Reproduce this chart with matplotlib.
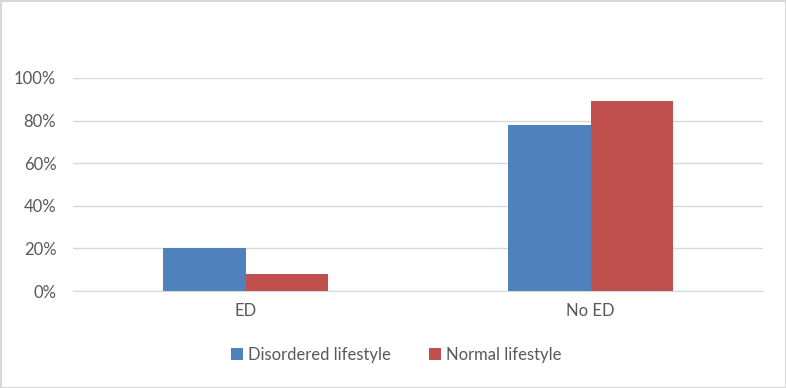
import matplotlib
matplotlib.use("Agg")
import matplotlib.pyplot as plt
import numpy as np
from matplotlib.ticker import PercentFormatter
from matplotlib.patches import Rectangle

categories = ["ED", "No ED"]
series_names = ["Disordered lifestyle", "Normal lifestyle"]
disordered = [0.20, 0.78]
normal = [0.08, 0.89]
yticks = [0, 0.2, 0.4, 0.6, 0.8, 1.0]
colors = ["#4F81BD", "#C0504D"]

plt.rcParams['font.family'] = ['Lato', 'DejaVu Sans']
fig = plt.figure(figsize=(7.86, 3.88), dpi=100)
left, right = 73, 763
ax = fig.add_axes([left/786, 1-291/388, (right-left)/786, (291-78)/388])

x = np.arange(len(categories))
w = 0.238
ax.bar(x - w/2, disordered, w, color=colors[0], label=series_names[0], zorder=3)
ax.bar(x + w/2, normal, w, color=colors[1], label=series_names[1], zorder=3)

ax.set_xlim(-0.5, 1.5)
ax.set_ylim(0, 1.0)
ax.set_yticks(yticks)
ax.yaxis.set_major_formatter(PercentFormatter(1.0, decimals=0))
ax.set_xticks(x)
ax.set_xticklabels(categories)
ax.grid(axis='y', color='#D9D9D9', linewidth=1, zorder=0)
for s in ['top', 'right', 'left']:
    ax.spines[s].set_visible(False)
ax.spines['bottom'].set_color('#D9D9D9')
ax.tick_params(axis='both', length=0, colors='#595959', labelsize=12)
ax.tick_params(axis='y', pad=12)
ax.tick_params(axis='x', pad=9)

leg = fig.legend(loc='center', bbox_to_anchor=(396/786, 1-355/388), ncol=2, frameon=False,
                 fontsize=12, handlelength=0.7, handleheight=0.7, handletextpad=0.3, columnspacing=2.3)
for t in leg.get_texts():
    t.set_color('#595959')

fig.patches.append(Rectangle((0.5/786, 0.5/388), 1-1/786, 1-1/388, transform=fig.transFigure,
                             fill=False, edgecolor='#D9D9D9', linewidth=1.5))
fig.savefig("out.png", dpi=100)
